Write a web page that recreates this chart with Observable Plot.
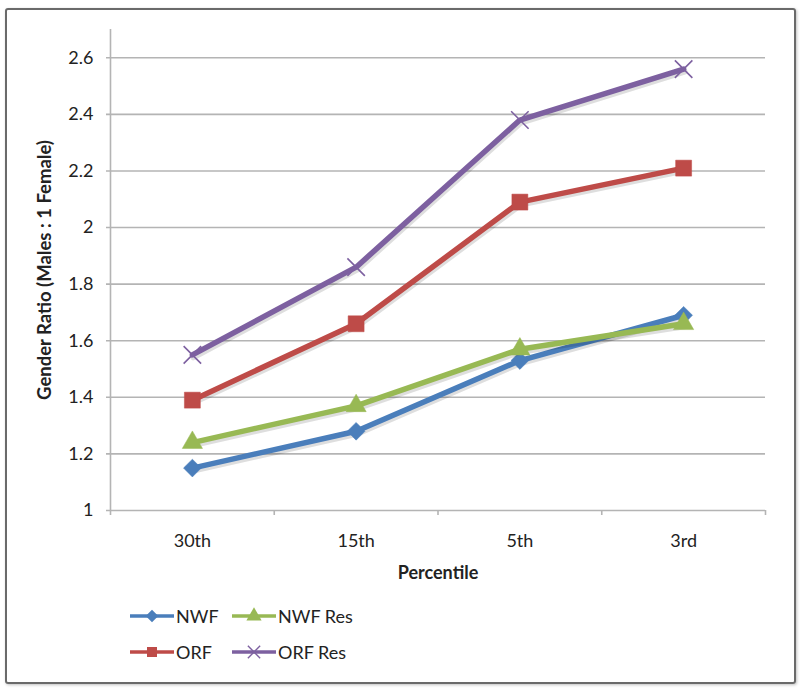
<!DOCTYPE html>
<html>
<head>
<meta charset="utf-8">
<script src="https://cdn.jsdelivr.net/npm/d3@7"></script>
<script src="https://cdn.jsdelivr.net/npm/@observablehq/plot@0.6"></script>
<style>
  html, body { margin: 0; padding: 0; background: #fff; }
  #wrap { position: relative; width: 800px; height: 690px; overflow: hidden; font-family: Lato, "Open Sans", sans-serif; color: #222; }
  #frame { position: absolute; left: 5px; top: 8px; width: 787px; height: 672px; border: 2px solid #6a6a6a; border-radius: 3px; box-shadow: 1px 1px 3px rgba(0,0,0,0.25); }
  #chart { position: absolute; left: 0; top: 0; }
  #legend { position: absolute; left: 130px; top: 604px; display: grid; grid-template-columns: 102px 140px; row-gap: 12px; font-size: 18px; }
  .item { display: flex; align-items: center; height: 24px; }
  .item svg { margin-right: 2px; }
</style>
</head>
<body>
<div id="wrap">
  <div id="frame"></div>
  <div id="chart"></div>
  <div id="legend"></div>
</div>
<script>
// ---- data ----
const percentiles = ["30th", "15th", "5th", "3rd"];
const nwf    = [1.15, 1.28, 1.53, 1.69];
const nwfRes = [1.24, 1.37, 1.57, 1.66];
const orf    = [1.39, 1.66, 2.09, 2.21];
const orfRes = [1.55, 1.86, 2.38, 2.56];
const seriesNames = ["NWF", "NWF Res", "ORF", "ORF Res"];
const seriesColors = ["#4a7ebb", "#98b954", "#be4b48", "#7d60a0"];
const seriesSymbols = ["diamond2", "triangle", "square", "times"];
const seriesRadius = [8, 7.5, 9, 8];
const yTicks = [1, 1.2, 1.4, 1.6, 1.8, 2, 2.2, 2.4, 2.6];
const yTitle = "Gender Ratio (Males : 1 Female)";
const xTitle = "Percentile";

// ---- build table ----
const seriesValues = [nwf, nwfRes, orf, orfRes];
const rows = seriesValues.map((vals, s) =>
  vals.map((v, i) => ({ series: seriesNames[s], cat: percentiles[i], xi: i + 0.5, value: v }))
);
const bounds = d3.range(percentiles.length + 1);
const gray = "#b4b4b4";

const seriesMarks = rows.flatMap((data, s) => {
  const isStroke = seriesSymbols[s] === "times";
  return [
    Plot.line(data, { x: "xi", y: "value", stroke: "#000", strokeOpacity: 0.13, strokeWidth: 6, dx: 1, dy: 2.5, strokeLinejoin: "round" }),
    Plot.line(data, { x: "xi", y: "value", stroke: seriesColors[s], strokeWidth: 5.5, strokeLinejoin: "round" }),
    Plot.dot(data, isStroke
      ? { x: "xi", y: "value", symbol: seriesSymbols[s], r: seriesRadius[s], stroke: seriesColors[s], strokeWidth: 1.6 }
      : { x: "xi", y: "value", symbol: seriesSymbols[s], r: seriesRadius[s], fill: seriesColors[s], stroke: seriesColors[s], strokeWidth: 0.5 })
  ];
});

const chart = Plot.plot({
  width: 800,
  height: 600,
  marginLeft: 110,
  marginRight: 35,
  marginTop: 29,
  marginBottom: 90,
  style: { fontFamily: "Lato, 'Open Sans', sans-serif", fontSize: "18px", color: "#222", background: "transparent", overflow: "visible" },
  x: { domain: [0, percentiles.length], axis: null },
  y: { domain: [1, 2.7], ticks: yTicks, tickFormat: d => String(d), tickSize: 0, tickPadding: 17, label: null },
  marks: [
    Plot.ruleY(yTicks, { stroke: gray, strokeWidth: 1.6, insetLeft: -4 }),
    Plot.ruleX([0], { stroke: gray, strokeWidth: 1.6 }),
    Plot.ruleX(bounds, { y1: 1, y2: 1, insetBottom: -5, stroke: gray, strokeWidth: 1.6 }),
    Plot.text(percentiles, { x: (d, i) => i + 0.5, frameAnchor: "bottom", dy: 36, fill: "#222", fontSize: 18 }),
    Plot.text([xTitle], { frameAnchor: "bottom", dy: 68, fontWeight: "bold", fill: "#222", fontSize: 18 }),
    Plot.text([yTitle], { frameAnchor: "left", textAnchor: "middle", dx: -65, rotate: -90, fontWeight: "bold", fill: "#222", fontSize: 18.5 }),
    ...seriesMarks
  ]
});
document.getElementById("chart").appendChild(chart);

// ---- legend ----
const legend = d3.select("#legend");
const legendOrder = [0, 1, 2, 3];
legendOrder.forEach(s => {
  const item = legend.append("div").attr("class", "item");
  const svg = item.append("svg").attr("width", 44).attr("height", 20);
  svg.append("line").attr("x1", 0).attr("x2", 44).attr("y1", 10).attr("y2", 10)
    .attr("stroke", seriesColors[s]).attr("stroke-width", 3.5);
  const symMap = { diamond2: d3.symbolDiamond2, triangle: d3.symbolTriangle, square: d3.symbolSquare, times: d3.symbolTimes };
  const path = svg.append("path")
    .attr("transform", "translate(22,10)")
    .attr("d", d3.symbol(symMap[seriesSymbols[s]], 100)());
  if (seriesSymbols[s] === "times") path.attr("fill", "none").attr("stroke", seriesColors[s]).attr("stroke-width", 1.4);
  else path.attr("fill", seriesColors[s]);
  item.append("span").text(seriesNames[s]);
});
</script>
</body>
</html>
